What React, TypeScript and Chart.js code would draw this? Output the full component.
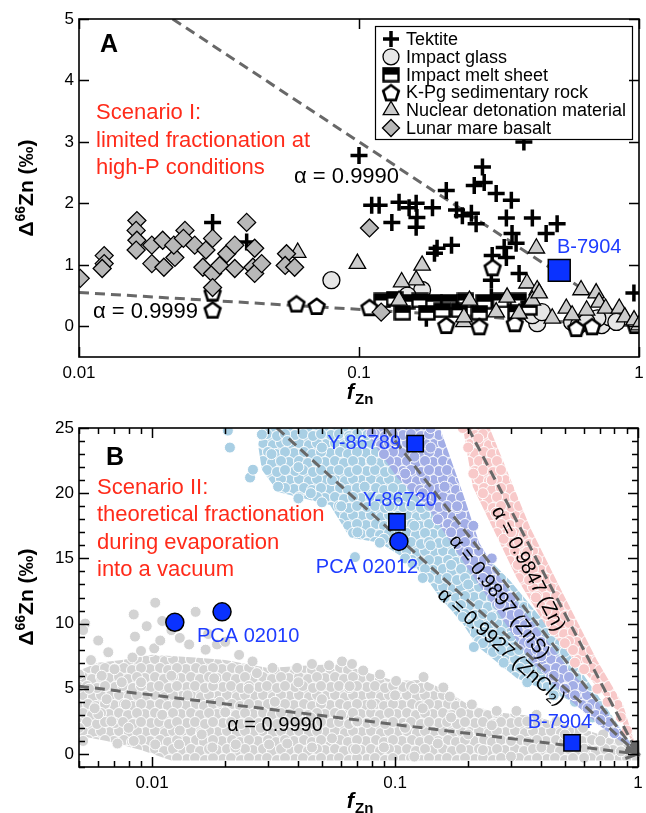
import React, { useEffect, useRef } from 'react';
import { Chart, registerables } from 'chart.js';
Chart.register(...registerables);

const FONT = '"Liberation Sans", Arial, Helvetica, sans-serif';

// ================= Panel A data: [fZn, Δ66Zn] =================
const aXTicks = [0.01, 0.1, 1];
const aYTicks = [0, 1, 2, 3, 4, 5];

const tektite = [
  [0.030, 1.69], [0.0397, 1.37], [0.100, 2.78], [0.111, 1.97], [0.118, 1.97], [0.131, 1.69],
  [0.139, 2.02], [0.151, 1.93], [0.160, 2.0], [0.161, 1.77], [0.160, 1.61], [0.183, 1.93],
  [0.205, 2.21], [0.223, 1.89], [0.234, 1.80], [0.252, 1.84], [0.262, 1.67], [0.258, 2.29],
  [0.276, 2.59], [0.280, 2.34], [0.309, 2.16], [0.350, 2.05], [0.336, 1.76], [0.416, 1.76],
  [0.466, 1.51], [0.510, 1.67], [0.352, 1.51], [0.364, 1.35], [0.330, 1.28], [0.336, 1.12],
  [0.299, 1.15], [0.214, 1.32], [0.186, 1.19], [0.190, 1.27], [0.373, 0.86], [0.297, 0.75],
  [0.297, 0.47], [0.174, 0.13], [0.959, 0.54], [0.388, 3.0],
];
const impactGlass = [
  [0.0797, 0.75], [0.168, 0.59], [0.149, 0.50], [0.433, 0.05], [0.577, 0.07], [0.61, 0.02],
  [0.679, 0.02], [0.736, 0.02], [0.782, 0.15], [0.83, 0.07], [0.71, 0.13], [0.405, 0.23],
  [0.65, 0.07], [0.416, 0.18], [0.45, 0.23],
];
const meltSheet = [
  [0.121, 0.42], [0.134, 0.45], [0.148, 0.40], [0.165, 0.42], [0.185, 0.40], [0.21, 0.40],
  [0.24, 0.42], [0.28, 0.40], [0.32, 0.42], [0.37, 0.42], [0.143, 0.22], [0.175, 0.22],
  [0.198, 0.26], [0.228, 0.26], [0.269, 0.22], [0.364, 0.23], [0.405, 0.30],
];
const kpgRock = [
  [0.030, 0.55], [0.030, 0.27], [0.0598, 0.37], [0.0706, 0.33], [0.109, 0.31], [0.30, 0.96],
  [0.205, 0.02], [0.269, 0.0], [0.597, -0.03], [0.97, 0.02], [0.36, 0.05], [0.68, 0.0],
];
const nuclear = [
  [0.0604, 1.2], [0.0987, 1.02], [0.168, 0.99], [0.160, 0.75], [0.430, 1.27], [0.398, 0.70],
  [0.433, 0.59], [0.621, 0.59], [0.703, 0.54], [0.248, 0.42], [0.338, 0.47], [0.309, 0.23],
  [0.237, 0.07], [0.416, 0.42], [0.373, 0.21], [0.490, 0.13], [0.550, 0.29], [0.577, 0.18],
  [0.65, 0.26], [0.72, 0.39], [0.76, 0.29], [0.85, 0.29], [0.89, 0.15], [0.96, 0.1],
  [1.0, 0.02], [0.139, 0.42], [0.142, 0.72], [0.237, 0.15], [0.44, 0.54],
];
const lunarBasalt = [
  [0.0101, 0.78], [0.0123, 1.15], [0.0123, 1.02], [0.0121, 0.94], [0.0161, 1.72], [0.0160, 1.56],
  [0.0161, 1.40], [0.0160, 1.24], [0.0182, 1.32], [0.0182, 1.02], [0.0199, 1.40], [0.0201, 0.96],
  [0.0220, 1.12], [0.0218, 1.32], [0.0239, 1.56], [0.0236, 1.43], [0.0259, 1.32], [0.0284, 1.24],
  [0.0300, 1.43], [0.0277, 0.96], [0.0300, 0.86], [0.0300, 0.63], [0.0318, 0.99], [0.0337, 1.18],
  [0.0360, 1.32], [0.0360, 0.94], [0.0397, 1.69], [0.0424, 1.27], [0.0418, 0.96], [0.0424, 0.86],
  [0.0449, 1.02], [0.0551, 1.18], [0.0545, 0.99], [0.0589, 0.96], [0.109, 1.60], [0.120, 0.23],
];
const b7904A = [[0.519, 0.91]];
const alpha9999A = [[0.01, 0.55], [1, 0]];
const alpha9990A = [[0.0216, 5], [1, 0]];
const legendLabels = ['Tektite', 'Impact glass', 'Impact melt sheet', 'K-Pg sedimentary rock', 'Nuclear detonation material', 'Lunar mare basalt'];
const legendKinds = ['cross', 'circle', 'melt', 'pent', 'tri', 'diamond'];

// ================= Panel B data =================
const bXTicks = [0.01, 0.1, 1];
const bXMinor = [0.005, 0.006, 0.007, 0.008, 0.009, 0.02, 0.03, 0.04, 0.05, 0.06, 0.07, 0.08, 0.09, 0.2, 0.3, 0.4, 0.5, 0.6, 0.7, 0.8, 0.9];
const bYTicks = [0, 5, 10, 15, 20, 25];
const bYMinor = [-1, 1, 2, 3, 4, 6, 7, 8, 9, 11, 12, 13, 14, 16, 17, 18, 19, 21, 22, 23, 24];

const grayCloudArea = [
  [0.005, 6.4], [0.006, 7.0], [0.0075, 7.2], [0.01, 7.6], [0.015, 7.4], [0.02, 7.2], [0.03, 6.6],
  [0.045, 6.8], [0.06, 6.9], [0.075, 6.3], [0.1, 5.6], [0.13, 5.7], [0.16, 4.9], [0.2, 3.8],
  [0.26, 3.2], [0.38, 2.9], [0.46, 2.4], [0.6, 1.9], [0.72, 1.4], [0.85, 0.9], [1, 0.2],
  [1, -0.5], [0.012, -0.5], [0.009, 0.3], [0.0065, 1.0], [0.005, 1.4],
];
const grayCloudDots = [
  [0.0053, 10.0], [0.0052, 9.5], [0.006, 8.7], [0.005, 6.1], [0.0084, 10.7], [0.0103, 11.6],
  [0.009, 7.9], [0.0083, 7.4], [0.0102, 8.1], [0.0151, 10.9], [0.0108, 8.7], [0.0142, 8.4],
  [0.0166, 8.0], [0.0185, 8.4], [0.0228, 7.6], [0.0259, 7.1], [0.0313, 6.6],
  [0.006, 3.05], [0.008, 2.0], [0.0084, 1.0], [0.005, 2.0], [0.0055, 5], [0.0062, 6],
  [0.0065, 4.2], [0.007, 6.5], [0.0058, 3.5], [0.0068, 2.5], [0.0075, 5.5], [0.0052, 1.0],
  [0.0072, 0.8], [0.0078, 3.8], [0.0056, 7.2], [0.0066, 7.8], [0.0085, 9], [0.0095, 9.8],
  [0.012, 9.5], [0.013, 8.9], [0.017, 9.2], [0.02, 8.6], [0.011, 10.2],
  [0.0395, 6.6], [0.0455, 6.9], [0.0535, 6.8], [0.0605, 7.1], [0.0665, 6.9], [0.0739, 6.4],
  [0.0867, 6.1], [0.101, 5.6], [0.131, 5.9], [0.158, 5.1], [0.168, 4.4], [0.207, 3.8],
  [0.262, 3.3], [0.316, 3.3], [0.382, 3.0], [0.462, 2.5], [0.594, 2.0], [0.719, 1.5],
  [0.842, 1.0], [0.955, 0.2],
  [0.009, 5.5], [0.011, 3], [0.012, 6], [0.014, 4.5], [0.016, 1.5], [0.018, 5.8], [0.02, 3.2],
  [0.022, 0.5], [0.025, 5], [0.028, 2], [0.032, 4], [0.036, 0.8], [0.04, 5.5], [0.045, 2.8],
  [0.05, 4.2], [0.055, 1.2], [0.065, 5.2], [0.07, 2.5], [0.08, 3.8], [0.09, 0.5], [0.1, 4.5],
  [0.11, 2], [0.13, 3.5], [0.15, 0.8], [0.17, 2.8], [0.2, 1.5], [0.23, 0.3], [0.25, 2.2],
  [0.3, 1], [0.35, 2.5], [0.4, 0.5], [0.5, 1.5], [0.6, 0.4], [0.7, 1], [0.85, 0.2],
  [0.013, 1.8], [0.019, 4], [0.027, 6.2], [0.06, 3], [0.12, 5],
  [0.0103, 0.73], [0.0129, 0.73], [0.0177, 0.5], [0.0221, 0.73], [0.0303, 0.73], [0.0455, 0.5],
  [0.069, 0.37], [0.12, -0.2], [0.3, -0.2], [0.6, -0.3],
];
const blueCloudArea = [
  [0.0283, 25], [0.0273, 23.7], [0.0283, 21.8], [0.033, 20.1], [0.054, 19.1], [0.0652, 16.6],
  [0.0866, 16.2], [0.118, 14.6], [0.139, 13.1], [0.153, 12.0], [0.190, 10.0], [0.217, 8.3],
  [0.317, 5.8], [0.525, 4.1], [0.789, 2.0], [1, 0], [0.731, 3.7], [0.476, 8.7], [0.297, 13.3],
  [0.185, 17.2], [0.126, 21.0], [0.0998, 25],
];
const blueCloudDots = [
  [0.0205, 24.8], [0.0209, 23.5], [0.0253, 21.2], [0.026, 21.8], [0.0283, 24.5], [0.031, 23],
  [0.033, 20.5], [0.036, 24], [0.04, 22], [0.045, 20], [0.05, 23.5], [0.055, 21], [0.06, 19],
  [0.065, 24.2], [0.07, 17], [0.075, 20.5], [0.08, 22.5], [0.09, 16.5], [0.095, 19], [0.11, 15],
  [0.12, 17.5], [0.13, 13.5], [0.14, 16], [0.16, 12], [0.17, 14.5], [0.19, 10.5], [0.2, 13],
  [0.23, 8.5], [0.25, 10.5], [0.28, 7], [0.3, 9], [0.35, 5.5], [0.4, 6.5], [0.45, 4.5],
  [0.55, 4], [0.65, 2.8], [0.8, 1.8], [0.0684, 15.1], [0.211, 8.2], [0.0866, 16.2],
  [0.118, 14.6], [0.05, 19.3], [0.04, 19.6],
];
const purpleCloudArea = [
  [0.0738, 25], [0.102, 21.2], [0.139, 18.7], [0.190, 14.8], [0.262, 11], [0.359, 7.2],
  [0.491, 4.6], [0.715, 2.0], [1, 0], [0.837, 2.0], [0.677, 4.1], [0.525, 6.4], [0.383, 9.7],
  [0.297, 12.3], [0.222, 16.2], [0.190, 20], [0.153, 25],
];
const purpleCloudDots = [
  [0.08, 24.6], [0.09, 23], [0.1, 24], [0.11, 21.5], [0.12, 22.8], [0.13, 20], [0.14, 23.5],
  [0.15, 18], [0.16, 20.5], [0.17, 17], [0.18, 19], [0.2, 15.5], [0.21, 17.5], [0.23, 13.5],
  [0.25, 15], [0.27, 11.5], [0.3, 12], [0.32, 9.5], [0.36, 8.5], [0.4, 7.5], [0.45, 6],
  [0.5, 5], [0.55, 4.5], [0.62, 3.5], [0.7, 2.6], [0.8, 1.6], [0.14, 25],
];
const pinkCloudArea = [
  [0.190, 25.1], [0.209, 20.5], [0.317, 13.5], [0.422, 9.7], [0.634, 5.8], [0.818, 3.3], [1, 0],
  [0.867, 3.8], [0.677, 7.2], [0.491, 12.3], [0.359, 17.4], [0.245, 25],
];
const pinkCloudDots = [
  [0.19, 25], [0.2, 23.5], [0.22, 24.2], [0.21, 21.5], [0.23, 20], [0.25, 21], [0.26, 18.5],
  [0.28, 16.5], [0.3, 17], [0.32, 14.5], [0.35, 15.5], [0.38, 12], [0.42, 11], [0.45, 9.5],
  [0.5, 8.5], [0.55, 7], [0.6, 6.5], [0.68, 5], [0.75, 4], [0.85, 2.8], [0.9, 1.8],
];
const alpha9990B = [[0.005, 5.2], [1, 0]];
const alpha9927 = [[0.0326, 25], [1, 0]];
const alpha9897 = [[0.091, 25], [1, 0]];
const alpha9847 = [[0.2, 25], [1, 0]];
const meteoriteSquares = [[0.121, 23.8], [0.1018, 17.8], [0.535, 0.85]];
const meteoriteCircles = [[0.1037, 16.3], [0.0124, 10.1], [0.0194, 10.9]];

// ================= helpers =================
const pts = (a: number[][]) => a.map(([x, y]) => ({ x, y }));
const RED = '#ff2b1a';
const BLUE_TXT = '#1e3cff';
const BLUE_MK = '#0a32ff';

// texture tile: overlapping dots with white outlines (fixed layout, style only)
const TILE_DOTS = [
  [2, 3], [11, 2], [21, 4], [29, 2], [6, 12], [16, 11], [24, 13], [33, 11],
  [1, 21], [11, 20], [20, 22], [29, 20], [7, 30], [15, 29], [25, 31], [33, 29],
];
function makeDotPattern(color: string) {
  const T = 36;
  const c = document.createElement('canvas');
  c.width = T; c.height = T;
  const ctx = c.getContext('2d')!;
  ctx.fillStyle = color; ctx.fillRect(0, 0, T, T);
  ctx.strokeStyle = 'rgba(255,255,255,0.95)'; ctx.lineWidth = 1;
  for (const [px, py] of TILE_DOTS) {
    for (const dx of [-T, 0, T]) for (const dy of [-T, 0, T]) {
      ctx.beginPath();
      ctx.arc(px + dx, py + dy, 5.5, 0, Math.PI * 2);
      ctx.fillStyle = color; ctx.fill(); ctx.stroke();
    }
  }
  return ctx.createPattern(c, 'repeat')!;
}

function makePentagon() {
  const c = document.createElement('canvas');
  c.width = 22; c.height = 22;
  const ctx = c.getContext('2d')!;
  ctx.beginPath();
  for (let i = 0; i < 5; i++) {
    const a = -Math.PI / 2 + (i * 2 * Math.PI) / 5;
    const x = 11 + 8.2 * Math.cos(a), y = 12 + 8.2 * Math.sin(a);
    if (i === 0) ctx.moveTo(x, y); else ctx.lineTo(x, y);
  }
  ctx.closePath();
  ctx.fillStyle = '#fff'; ctx.fill();
  ctx.lineWidth = 2.6; ctx.strokeStyle = '#000'; ctx.stroke();
  return c;
}
function makeMelt() {
  const c = document.createElement('canvas');
  c.width = 18; c.height = 16;
  const ctx = c.getContext('2d')!;
  ctx.fillStyle = '#fff'; ctx.fillRect(1.5, 1.5, 15, 13);
  ctx.fillStyle = '#000'; ctx.fillRect(1.5, 1.5, 15, 6.5);
  ctx.lineWidth = 2.4; ctx.strokeStyle = '#000'; ctx.strokeRect(1.5, 1.5, 15, 13);
  return c;
}

function drawMarker(ctx: CanvasRenderingContext2D, kind: string, x: number, y: number, pent: HTMLCanvasElement, melt: HTMLCanvasElement) {
  ctx.save();
  ctx.strokeStyle = '#000';
  ctx.lineWidth = 1.3;
  ctx.beginPath();
  if (kind === 'cross') {
    ctx.lineWidth = 3.5;
    ctx.moveTo(x - 8, y); ctx.lineTo(x + 8, y); ctx.moveTo(x, y - 8); ctx.lineTo(x, y + 8);
    ctx.stroke();
  } else if (kind === 'circle') {
    ctx.arc(x, y, 8, 0, Math.PI * 2);
    ctx.fillStyle = '#e6e6e6'; ctx.fill(); ctx.stroke();
  } else if (kind === 'melt') {
    ctx.drawImage(melt, x - melt.width / 2, y - melt.height / 2);
  } else if (kind === 'pent') {
    ctx.drawImage(pent, x - pent.width / 2, y - pent.height / 2);
  } else if (kind === 'tri') {
    const r = 9;
    ctx.moveTo(x, y - r);
    ctx.lineTo(x + r * Math.sin((2 * Math.PI) / 3), y - r * Math.cos((2 * Math.PI) / 3));
    ctx.lineTo(x + r * Math.sin((4 * Math.PI) / 3), y - r * Math.cos((4 * Math.PI) / 3));
    ctx.closePath();
    ctx.fillStyle = '#cccccc'; ctx.fill(); ctx.stroke();
  } else if (kind === 'diamond') {
    const r = 8.5;
    ctx.moveTo(x - r, y); ctx.lineTo(x, y - r); ctx.lineTo(x + r, y); ctx.lineTo(x, y + r);
    ctx.closePath();
    ctx.fillStyle = '#b8b8b8'; ctx.fill(); ctx.stroke();
  }
  ctx.restore();
}

function txt(ctx: CanvasRenderingContext2D, s: string, x: number, y: number, font: string, color: string, align: CanvasTextAlign = 'left') {
  ctx.save();
  ctx.font = font; ctx.fillStyle = color; ctx.textAlign = align; ctx.textBaseline = 'middle';
  ctx.fillText(s, x, y);
  ctx.restore();
}

function drawYTitle(ctx: CanvasRenderingContext2D, cx: number, cy: number) {
  ctx.save();
  ctx.translate(cx, cy);
  ctx.rotate(-Math.PI / 2);
  const big = `bold 21px ${FONT}`, small = `bold 14px ${FONT}`;
  const parts: [string, string, number][] = [['Δ', big, 0], ['66', small, -8], ['Zn (‰)', big, 0]];
  let total = 0;
  for (const [s, f] of parts) { ctx.font = f; total += ctx.measureText(s).width; }
  let x = -total / 2;
  ctx.fillStyle = '#000'; ctx.textBaseline = 'alphabetic'; ctx.textAlign = 'left';
  for (const [s, f, dy] of parts) { ctx.font = f; ctx.fillText(s, x, 7.5 + dy); x += ctx.measureText(s).width; }
  ctx.restore();
}
function drawXTitle(ctx: CanvasRenderingContext2D, cx: number, baseY: number) {
  ctx.save();
  const f1 = `italic bold 22px ${FONT}`, f2 = `bold 15px ${FONT}`;
  ctx.font = f1; const w1 = ctx.measureText('f').width + 1;
  ctx.font = f2; const w2 = ctx.measureText('Zn').width;
  const x0 = cx - (w1 + w2) / 2;
  ctx.fillStyle = '#000'; ctx.textBaseline = 'alphabetic'; ctx.textAlign = 'left';
  ctx.font = f1; ctx.fillText('f', x0, baseY);
  ctx.font = f2; ctx.fillText('Zn', x0 + w1, baseY + 5);
  ctx.restore();
}

function drawFrame(chart: any, xMajor: number[], xMinor: number[], yMajor: number[], yMinor: number[]) {
  const { ctx, chartArea: a, scales } = chart;
  const x = scales.x, y = scales.y;
  ctx.save();
  ctx.strokeStyle = '#000';
  ctx.lineWidth = 1.5;
  ctx.beginPath();
  const seg = (x1: number, y1: number, x2: number, y2: number) => { ctx.moveTo(x1, y1); ctx.lineTo(x2, y2); };
  for (const [list, len] of [[xMajor, 10], [xMinor, 6]] as [number[], number][]) {
    for (const v of list) {
      const p = Math.round(x.getPixelForValue(v)) + 0.5;
      seg(p, a.bottom, p, a.bottom - len);
      seg(p, a.top, p, a.top + len);
    }
  }
  for (const [list, len] of [[yMajor, 10], [yMinor, 6]] as [number[], number][]) {
    for (const v of list) {
      const p = Math.round(y.getPixelForValue(v)) + 0.5;
      seg(a.left, p, a.left + len, p);
      seg(a.right, p, a.right - len, p);
    }
  }
  ctx.stroke();
  ctx.lineWidth = 1.6;
  ctx.strokeRect(a.left, a.top, a.right - a.left, a.bottom - a.top);
  ctx.restore();
}

const dashLine = (data: number[][]) => ({
  type: 'line', data: pts(data), borderColor: '#686868', borderWidth: 3, borderDash: [10, 6],
  pointRadius: 0, fill: false, tension: 0,
});

function baseScales(xMin: number, xMax: number, yMin: number, yMax: number, xTicks: number[], yTicks: number[], axisH: number) {
  const tickFont = { family: FONT, size: 17 };
  return {
    x: {
      type: 'logarithmic', min: xMin, max: xMax, position: 'bottom',
      grid: { display: false, drawTicks: false }, border: { display: false },
      ticks: { font: tickFont, color: '#000', padding: 6, maxRotation: 0, autoSkip: false, callback: (v: number) => String(v) },
      afterBuildTicks: (s: any) => { s.ticks = xTicks.map((v) => ({ value: v })); },
      afterFit: (s: any) => { s.height = axisH; s.paddingLeft = 0; s.paddingRight = 0; },
    },
    y: {
      type: 'linear', min: yMin, max: yMax, position: 'left',
      grid: { display: false, drawTicks: false }, border: { display: false },
      ticks: { font: tickFont, color: '#000', padding: 5, autoSkip: false, callback: (v: number) => String(v) },
      afterBuildTicks: (s: any) => { s.ticks = yTicks.map((v) => ({ value: v })); },
      afterFit: (s: any) => { s.width = 79; s.paddingTop = 0; s.paddingBottom = 0; },
    },
  };
}

function withOrder(ds: any[]) {
  return ds.map((d, i) => ({ ...d, order: ds.length - i }));
}

function buildA(canvas: HTMLCanvasElement) {
  const pent = makePentagon();
  const melt = makeMelt();
  const datasets = withOrder([
    dashLine(alpha9999A),
    dashLine(alpha9990A),
    { type: 'scatter', data: pts(tektite), pointStyle: 'cross', pointRadius: 8.5, pointBorderColor: '#000', pointBorderWidth: 3.5 },
    { type: 'scatter', data: pts(impactGlass), pointStyle: 'circle', pointRadius: 8.5, pointBackgroundColor: '#e6e6e6', pointBorderColor: '#000', pointBorderWidth: 1.3 },
    { type: 'scatter', data: pts(meltSheet), pointStyle: melt, pointRadius: 8 },
    { type: 'scatter', data: pts(kpgRock), pointStyle: pent, pointRadius: 8 },
    { type: 'scatter', data: pts(nuclear), pointStyle: 'triangle', pointRadius: 9.5, pointBackgroundColor: '#cccccc', pointBorderColor: '#000', pointBorderWidth: 1.3 },
    { type: 'scatter', data: pts(lunarBasalt), pointStyle: 'rectRot', pointRadius: 9, pointBackgroundColor: '#b8b8b8', pointBorderColor: '#000', pointBorderWidth: 1.3 },
    { type: 'scatter', data: pts(b7904A), pointStyle: 'rect', pointRadius: 15.5, pointBackgroundColor: BLUE_MK, pointBorderColor: '#000', pointBorderWidth: 1.5 },
  ]);
  const overlay = {
    id: 'overlayA',
    afterDatasetsDraw(chart: any) {
      const { ctx, scales } = chart;
      ctx.save();
      ctx.fillStyle = '#fff';
      ctx.fillRect(375, 26, 257, 113);
      ctx.strokeStyle = '#000'; ctx.lineWidth = 1.2;
      ctx.strokeRect(375.5, 26.5, 257, 113);
      ctx.restore();
      legendLabels.forEach((lab, i) => {
        const yy = 39 + i * 17.8;
        drawMarker(ctx, legendKinds[i], 391, yy, pent, melt);
        txt(ctx, lab, 406, yy + 1, `18px ${FONT}`, '#000');
      });
      txt(ctx, 'A', 100, 45, `bold 25px ${FONT}`, '#000');
      txt(ctx, 'Scenario I:', 96, 113, `22px ${FONT}`, RED);
      txt(ctx, 'limited fractionation at', 96, 141, `22px ${FONT}`, RED);
      txt(ctx, 'high-P conditions', 96, 168, `22px ${FONT}`, RED);
      txt(ctx, 'α = 0.9990', 294, 177, `22px ${FONT}`, '#000');
      txt(ctx, 'α = 0.9999', 93, 312, `22px ${FONT}`, '#000');
      const bx = scales.x.getPixelForValue(b7904A[0][0]);
      const by = scales.y.getPixelForValue(b7904A[0][1]);
      txt(ctx, 'B-7904', bx + 30, by - 23, `20px ${FONT}`, BLUE_TXT, 'center');
    },
    afterDraw(chart: any) {
      drawFrame(chart, aXTicks, [], aYTicks, []);
      drawYTitle(chart.ctx, 25, 188);
      drawXTitle(chart.ctx, 360, 399);
    },
  };
  return new Chart(canvas, {
    type: 'scatter',
    data: { datasets } as any,
    options: {
      responsive: false, animation: false, devicePixelRatio: 1, events: [],
      layout: { autoPadding: false, padding: { top: 19, right: 7, left: 0, bottom: 0 } },
      plugins: { legend: { display: false }, tooltip: { enabled: false } },
      scales: baseScales(0.01, 1, -0.5, 5, aXTicks, aYTicks, 405 - 357) as any,
    },
    plugins: [overlay],
  } as any);
}

function buildB(canvas: HTMLCanvasElement) {
  const poly = (data: number[][], color: string) => ({
    type: 'line', data: pts(data), fill: 'shape', backgroundColor: makeDotPattern(color), borderWidth: 0,
    borderColor: 'rgba(0,0,0,0)', pointRadius: 0, tension: 0, clip: 0,
  });
  const dots = (data: number[][], color: string) => ({
    type: 'scatter', data: pts(data), pointStyle: 'circle', pointRadius: 5.5,
    pointBackgroundColor: color, pointBorderColor: '#fff', pointBorderWidth: 1, clip: 0,
  });
  const GRAY = '#d3d3d3', LBLUE = '#a9cfe4', PURP = '#a3aee6', PINK = '#f8c9c9';
  const lines = [alpha9990B, alpha9927, alpha9897, alpha9847];
  const datasets = withOrder([
    poly(grayCloudArea, GRAY), dots(grayCloudDots, GRAY),
    poly(blueCloudArea, LBLUE), dots(blueCloudDots, LBLUE),
    poly(purpleCloudArea, PURP), dots(purpleCloudDots, PURP),
    poly(pinkCloudArea, PINK), dots(pinkCloudDots, PINK),
    ...lines.map((l) => ({ ...dashLine(l), clip: 0 })),
    { type: 'scatter', data: pts(meteoriteSquares), pointStyle: 'rect', pointRadius: 11.5, pointBackgroundColor: BLUE_MK, pointBorderColor: '#000', pointBorderWidth: 1.5 },
    { type: 'scatter', data: pts(meteoriteCircles), pointStyle: 'circle', pointRadius: 9, pointBackgroundColor: BLUE_MK, pointBorderColor: '#000', pointBorderWidth: 1.5 },
  ]);
  const overlay = {
    id: 'overlayB',
    afterDatasetsDraw(chart: any) {
      const { ctx, scales } = chart;
      const X = (v: number) => scales.x.getPixelForValue(v);
      const Y = (v: number) => scales.y.getPixelForValue(v);
      for (const l of lines) {
        const x1 = X(l[0][0]), y1 = Y(l[0][1]), x2 = X(l[1][0]), y2 = Y(l[1][1]);
        const ang = Math.atan2(y2 - y1, x2 - x1);
        ctx.save();
        ctx.translate(x2, y2); ctx.rotate(ang);
        ctx.strokeStyle = '#686868'; ctx.lineWidth = 3;
        ctx.beginPath(); ctx.moveTo(-12, -6); ctx.lineTo(0, 0); ctx.lineTo(-12, 6); ctx.stroke();
        ctx.restore();
      }
      txt(ctx, 'B', 106, 53, `bold 25px ${FONT}`, '#000');
      ['Scenario II:', 'theoretical fractionation', 'during evaporation', 'into a vacuum'].forEach((s, i) =>
        txt(ctx, s, 97, 83 + i * 27.3, `22px ${FONT}`, RED));
      const f20 = `20px ${FONT}`;
      txt(ctx, 'PCA 02010', 197, 231, f20, BLUE_TXT);
      txt(ctx, 'Y-86789', 401, 38, f20, BLUE_TXT, 'right');
      txt(ctx, 'Y-86720', 400, 95, f20, BLUE_TXT, 'center');
      txt(ctx, 'PCA 02012', 367, 162, f20, BLUE_TXT, 'center');
      txt(ctx, 'B-7904', 560, 317, f20, BLUE_TXT, 'center');
      txt(ctx, 'α = 0.9990', 275, 320, f20, '#000', 'center');
      const rotLabel = (line: number[][], cx: number, cy: number, parts: [string, number][]) => {
        const ang = Math.atan2(Y(line[1][1]) - Y(line[0][1]), X(line[1][0]) - X(line[0][0]));
        ctx.save();
        ctx.translate(cx, cy); ctx.rotate(ang);
        ctx.fillStyle = '#000'; ctx.textBaseline = 'middle'; ctx.textAlign = 'left';
        let total = 0;
        for (const [s, sz] of parts) { ctx.font = `${sz}px ${FONT}`; total += ctx.measureText(s).width; }
        let x = -total / 2;
        for (const [s, sz] of parts) {
          ctx.font = `${sz}px ${FONT}`;
          ctx.fillText(s, x, sz < 19 ? 5 : 0);
          x += ctx.measureText(s).width;
        }
        ctx.restore();
      };
      rotLabel(alpha9847, 528, 164, [['α = 0.9847 (Zn)', 20]]);
      rotLabel(alpha9897, 499, 192, [['α = 0.9897 (ZnS)', 20]]);
      rotLabel(alpha9927, 501, 242, [['α = 0.9927 (ZnCl', 20], ['2', 14], [')', 20]]);
    },
    afterDraw(chart: any) {
      drawFrame(chart, bXTicks, bXMinor, bYTicks, bYMinor);
      drawYTitle(chart.ctx, 25, 192);
      drawXTitle(chart.ctx, 360, 403);
    },
  };
  return new Chart(canvas, {
    type: 'scatter',
    data: { datasets } as any,
    options: {
      responsive: false, animation: false, devicePixelRatio: 1, events: [],
      layout: { autoPadding: false, padding: { top: 23, right: 8, left: 0, bottom: 0 } },
      plugins: { legend: { display: false }, tooltip: { enabled: false } },
      scales: baseScales(0.005, 1, -1, 25, bXTicks, bYTicks, 408 - 362) as any,
    },
    plugins: [overlay],
  } as any);
}

function Panel({ height, top, build }: { height: number; top: number; build: (c: HTMLCanvasElement) => Chart }) {
  const ref = useRef<HTMLCanvasElement>(null);
  useEffect(() => {
    const c = build(ref.current!);
    return () => c.destroy();
  }, []);
  return (
    <canvas ref={ref} width={646} height={height}
      style={{ position: 'absolute', left: 0, top, width: 646, height, display: 'block' }} />
  );
}

export default function App() {
  return (
    <div style={{ position: 'absolute', left: 0, top: 0, width: 646, height: 813, background: '#fff', overflow: 'hidden' }}>
      <Panel height={405} top={0} build={buildA} />
      <Panel height={408} top={405} build={buildB} />
    </div>
  );
}
